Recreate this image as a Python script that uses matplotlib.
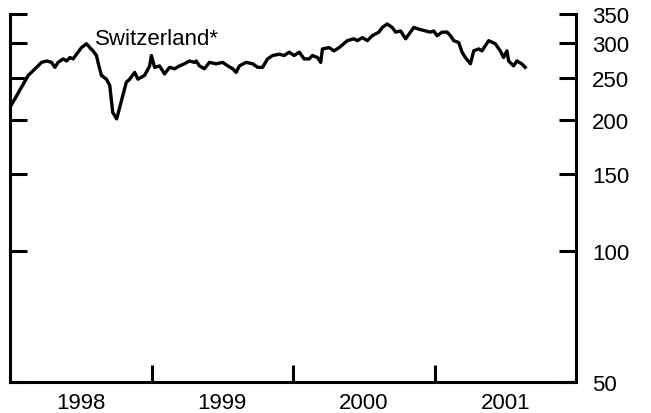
import matplotlib
matplotlib.use("Agg")
import matplotlib.pyplot as plt
from matplotlib.ticker import FixedLocator, NullFormatter

plt.rcParams['font.family'] = ['Liberation Sans', 'DejaVu Sans']

# Switzerland equity index, sampled dates (decimal years) and levels
t = [1998.012, 1998.129, 1998.188, 1998.223, 1998.259, 1998.294, 1998.317, 1998.340,
     1998.376, 1998.400, 1998.423, 1998.446, 1998.470, 1998.481, 1998.505, 1998.541,
     1998.564, 1998.587, 1998.611, 1998.622, 1998.646, 1998.681, 1998.705, 1998.726,
     1998.754, 1998.822, 1998.846, 1998.881, 1998.904, 1998.951, 1998.987, 1998.999,
     1999.022, 1999.057, 1999.092, 1999.128, 1999.163, 1999.198, 1999.233, 1999.268,
     1999.304, 1999.316, 1999.339, 1999.374, 1999.409, 1999.457, 1999.503, 1999.539,
     1999.574, 1999.598, 1999.621, 1999.668, 1999.715, 1999.750, 1999.785, 1999.820,
     1999.856, 1999.903, 1999.938, 1999.973, 2000.008, 2000.044, 2000.079, 2000.114,
     2000.137, 2000.173, 2000.196, 2000.208, 2000.255, 2000.290, 2000.326, 2000.384,
     2000.431, 2000.455, 2000.490, 2000.525, 2000.560, 2000.607, 2000.631, 2000.666,
     2000.701, 2000.725, 2000.760, 2000.796, 2000.854, 2000.889, 2000.937, 2000.972,
     2000.995, 2001.018, 2001.054, 2001.089, 2001.113, 2001.136, 2001.171, 2001.195,
     2001.218, 2001.254, 2001.277, 2001.312, 2001.335, 2001.383, 2001.430, 2001.465,
     2001.488, 2001.512, 2001.524, 2001.559, 2001.582, 2001.616, 2001.641]
index = [217, 253, 264, 271, 273, 271, 264, 271,
         276, 273, 278, 276, 283, 286, 293, 299,
         293, 288, 281, 271, 253, 248, 240, 208,
         201, 244, 248, 257, 248, 253, 266, 281,
         264, 266, 255, 264, 262, 266, 269, 273,
         271, 273, 266, 262, 271, 269, 271, 266,
         262, 257, 266, 271, 269, 264, 264, 276,
         281, 283, 281, 286, 281, 286, 276, 276,
         281, 278, 271, 291, 293, 288, 293, 304,
         307, 304, 309, 304, 312, 318, 326, 332,
         326, 318, 320, 307, 326, 323, 320, 318,
         320, 312, 318, 318, 312, 304, 301, 286,
         278, 269, 288, 291, 288, 304, 299, 288,
         278, 288, 273, 266, 273, 269, 264]

years = [1998, 1999, 2000, 2001]
y_ticks = [50, 100, 150, 200, 250, 300, 350]

fig = plt.figure(figsize=(6.51, 4.14), dpi=100)
ax = fig.add_axes([10 / 651, 31 / 414, 566 / 651, 368 / 414])

ax.plot(t, index, color='black', lw=2.4, solid_joinstyle='round')
ax.text(1998.6, 298, 'Switzerland*', fontsize=16, va='baseline', ha='left')

ax.set_yscale('log')
ax.set_ylim(50, 350)
ax.set_xlim(1998, 2002)

# y axis: labels on the right, inward ticks on both sides, long tick at the top
ax.yaxis.set_major_locator(FixedLocator(y_ticks))
ax.yaxis.set_minor_locator(FixedLocator([350]))
ax.set_yticklabels([str(v) for v in y_ticks])
ax.yaxis.set_minor_formatter(NullFormatter())
ax.tick_params(axis='y', which='major', direction='in', left=True, right=True,
               labelleft=False, labelright=True, length=12.5, width=2.2,
               pad=11.5, labelsize=16)
ax.tick_params(axis='y', which='minor', direction='in', left=True, right=True,
               length=28.5, width=2.2)

# x axis: year dividers as ticks, year names centered between them
ax.xaxis.set_major_locator(FixedLocator([y + 1 for y in years[:-1]]))
ax.xaxis.set_minor_locator(FixedLocator([y + 0.5 for y in years]))
ax.xaxis.set_major_formatter(NullFormatter())
ax.set_xticklabels([str(y) for y in years], minor=True)
ax.tick_params(axis='x', which='major', direction='in', length=12.5, width=2.2)
ax.tick_params(axis='x', which='minor', length=0, pad=7, labelsize=16)

ax.spines['top'].set_visible(False)
for side in ['left', 'right', 'bottom']:
    ax.spines[side].set_linewidth(2.2)

fig.savefig('out.png', dpi=100)
